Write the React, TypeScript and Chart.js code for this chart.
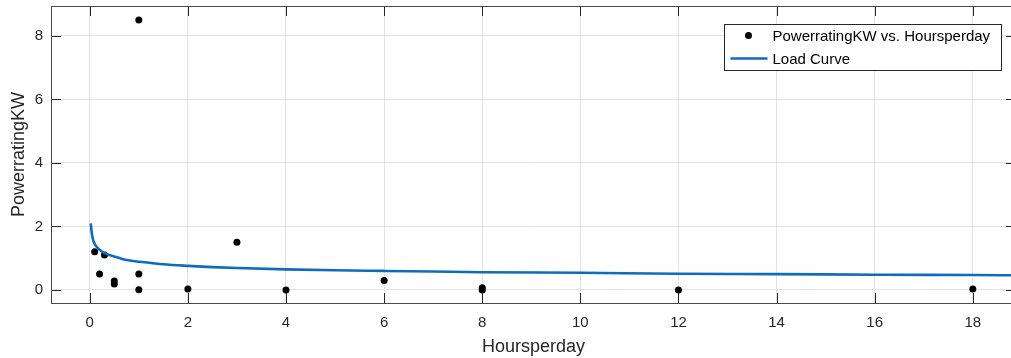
import { useEffect, useRef } from "react";
import { Chart, registerables } from "chart.js";

Chart.register(...registerables);

// ---- data ----
const pointHours = [0.1, 0.2, 0.3, 0.5, 0.5, 1, 1, 1, 2, 3, 4, 6, 8, 8, 12, 18];
const pointPower = [1.2, 0.5, 1.1, 0.28, 0.19, 0.5, 0.01, 8.5, 0.03, 1.5, 0.0, 0.3, 0.07, 0.0, 0.0, 0.03];

const curveHours = [0.02, 0.04, 0.07, 0.1, 0.14, 0.2, 0.3, 0.4, 0.54, 0.7, 0.85, 1, 1.25, 1.5, 2, 2.5, 3, 4, 5, 6, 7, 8, 10, 12, 14, 16, 18, 19];
const curvePower = [2.1, 1.8, 1.57, 1.45, 1.36, 1.27, 1.16, 1.1, 1.04, 0.96, 0.92, 0.89, 0.85, 0.81, 0.76, 0.72, 0.69, 0.65, 0.62, 0.6, 0.58, 0.56, 0.54, 0.51, 0.5, 0.48, 0.47, 0.46];

const xTicks = [0, 2, 4, 6, 8, 10, 12, 14, 16, 18];
const yTicks = [0, 2, 4, 6, 8];

const xLabel = "Hoursperday";
const yLabel = "PowerratingKW";
const seriesLabels = ["PowerratingKW vs. Hoursperday", "Load Curve"];

const FONT = "'Liberation Sans', Arial, Helvetica, sans-serif";
const AXIS_COLOR = "#262626";
const LINE_COLOR = "#0f6bbb";

const framePlugin = {
  id: "matlabFrame",
  afterDatasetsDraw(chart: any) {
    const { ctx, chartArea: a, scales } = chart;
    const xs = scales.x;
    const ys = scales.y;
    ctx.save();
    ctx.strokeStyle = AXIS_COLOR;
    ctx.lineWidth = 1;
    ctx.beginPath();
    const tl = 10;
    for (const t of xTicks) {
      const px = Math.round(xs.getPixelForValue(t)) + 0.5;
      ctx.moveTo(px, a.bottom);
      ctx.lineTo(px, a.bottom - tl);
      ctx.moveTo(px, a.top);
      ctx.lineTo(px, a.top + tl);
    }
    for (const t of yTicks) {
      const py = Math.round(ys.getPixelForValue(t)) + 0.5;
      ctx.moveTo(a.left, py);
      ctx.lineTo(a.left + tl, py);
      ctx.moveTo(a.right, py);
      ctx.lineTo(a.right - tl, py);
    }
    ctx.stroke();
    ctx.strokeStyle = "#4a4a4a";
    ctx.strokeRect(Math.round(a.left) + 0.5, Math.round(a.top) + 0.5, Math.round(a.right - a.left), Math.round(a.bottom - a.top));

    // legend box (MATLAB-style, inside top-right)
    const bx = Math.round(a.right) - 292 + 0.5;
    const by = Math.round(a.top) + 18 + 0.5;
    const bw = 277;
    const bh = 46;
    ctx.fillStyle = "#ffffff";
    ctx.fillRect(bx, by, bw, bh);
    ctx.strokeStyle = AXIS_COLOR;
    ctx.strokeRect(bx, by, bw, bh);

    const row1 = by + 11;
    const row2 = by + 34;
    ctx.fillStyle = "#000000";
    ctx.beginPath();
    ctx.arc(bx + 24, row1, 3.5, 0, Math.PI * 2);
    ctx.fill();
    ctx.strokeStyle = LINE_COLOR;
    ctx.lineWidth = 2.5;
    ctx.beginPath();
    ctx.moveTo(bx + 6, row2);
    ctx.lineTo(bx + 43, row2);
    ctx.stroke();

    ctx.fillStyle = "#000000";
    ctx.font = `15px ${FONT}`;
    ctx.textAlign = "left";
    ctx.textBaseline = "middle";
    ctx.fillText(seriesLabels[0], bx + 48, row1 + 1);
    ctx.fillText(seriesLabels[1], bx + 48, row2 + 1);
    ctx.restore();
  },
};

export default function App() {
  const canvasRef = useRef<HTMLCanvasElement | null>(null);

  useEffect(() => {
    const canvas = canvasRef.current;
    if (!canvas) return;
    const chart = new Chart(canvas, {
      type: "scatter",
      data: {
        datasets: [
          {
            label: seriesLabels[0],
            data: pointHours.map((h, i) => ({ x: h, y: pointPower[i] })),
            backgroundColor: "#000000",
            borderWidth: 0,
            pointRadius: 3.5,
            showLine: false,
            order: 1,
          },
          {
            type: "line",
            label: seriesLabels[1],
            data: curveHours.map((h, i) => ({ x: h, y: curvePower[i] })),
            borderColor: LINE_COLOR,
            backgroundColor: LINE_COLOR,
            borderWidth: 2.6,
            pointRadius: 0,
            showLine: true,
            fill: false,
            cubicInterpolationMode: "monotone",
            order: 0,
          } as any,
        ],
      },
      options: {
        responsive: false,
        animation: false,
        devicePixelRatio: 1,
        layout: { padding: { top: 6, right: 3, left: 0, bottom: 0 } },
        plugins: {
          legend: { display: false },
          tooltip: { enabled: false },
        },
        scales: {
          x: {
            type: "linear",
            min: -0.79,
            max: 18.88,
            afterBuildTicks: (s: any) => {
              s.ticks = xTicks.map((v) => ({ value: v }));
            },
            afterFit: (s: any) => {
              s.height = 55;
              s.paddingLeft = 0;
              s.paddingRight = 0;
            },
            grid: { color: "#e3e3e3", drawTicks: false, lineWidth: 1 },
            border: { display: false },
            ticks: {
              color: AXIS_COLOR,
              font: { family: FONT, size: 15 },
              padding: 11,
              maxRotation: 0,
              autoSkip: false,
            },
            title: {
              display: true,
              text: xLabel,
              color: AXIS_COLOR,
              font: { family: FONT, size: 18 },
              padding: { top: 0, bottom: 0 },
            },
          },
          y: {
            type: "linear",
            min: -0.41,
            max: 8.94,
            afterBuildTicks: (s: any) => {
              s.ticks = yTicks.map((v) => ({ value: v }));
            },
            afterFit: (s: any) => {
              s.width = 51;
              s.paddingTop = 0;
              s.paddingBottom = 0;
            },
            grid: { color: "#e3e3e3", drawTicks: false, lineWidth: 1 },
            border: { display: false },
            ticks: {
              color: AXIS_COLOR,
              font: { family: FONT, size: 15 },
              padding: 8,
              autoSkip: false,
            },
            title: {
              display: true,
              text: yLabel,
              color: AXIS_COLOR,
              font: { family: FONT, size: 18 },
              padding: { top: 8, bottom: 0 },
            },
          },
        },
      },
      plugins: [framePlugin],
    });
    return () => chart.destroy();
  }, []);

  return (
    <div
      style={{
        position: "fixed",
        left: 0,
        top: 0,
        width: 1011,
        height: 358,
        overflow: "hidden",
        background: "#ffffff",
      }}
    >
      <canvas ref={canvasRef} width={1020} height={358} style={{ display: "block" }} />
    </div>
  );
}
